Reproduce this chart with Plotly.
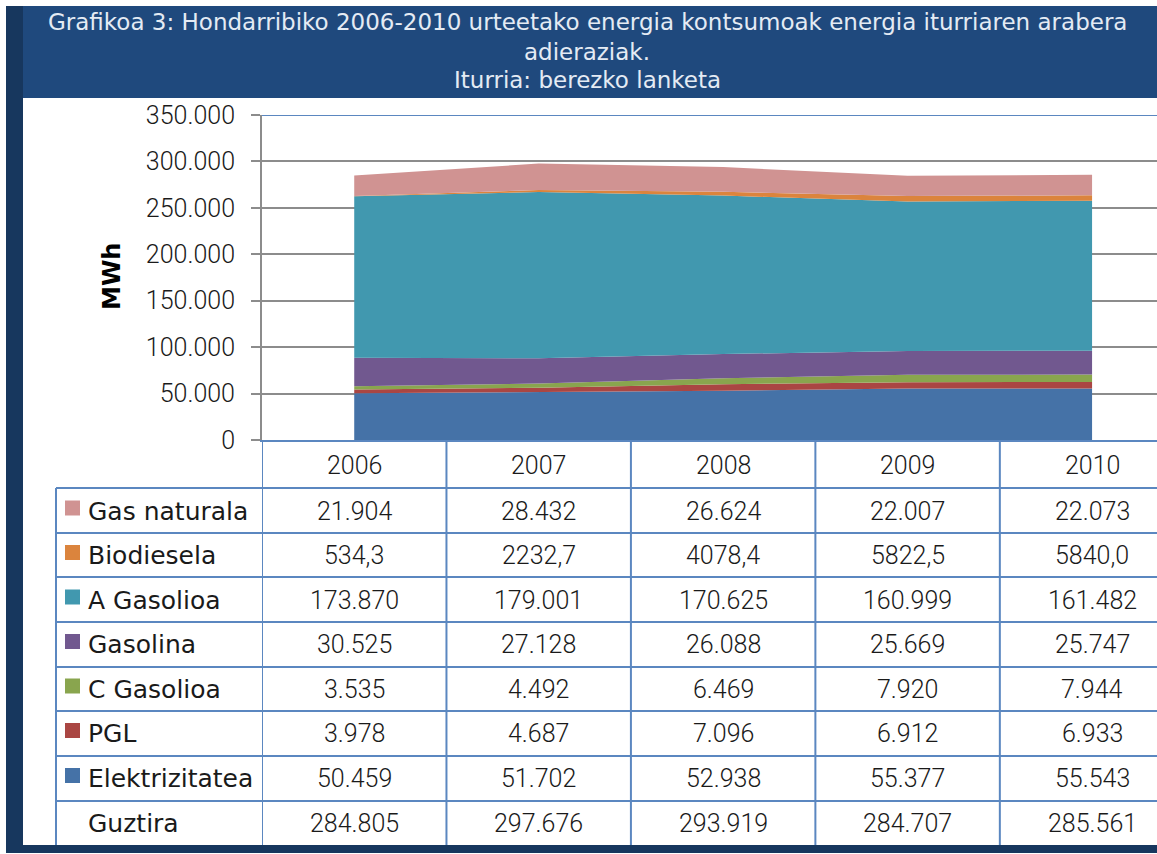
import plotly.graph_objects as go

W, H = 1157, 854

years = ["2006", "2007", "2008", "2009", "2010"]
series_names = ["Gas naturala", "Biodiesela", "A Gasolioa", "Gasolina", "C Gasolioa", "PGL", "Elektrizitatea"]
gas_naturala = [21904, 28432, 26624, 22007, 22073]
biodiesela = [534.3, 2232.7, 4078.4, 5822.5, 5840.0]
a_gasolioa = [173870, 179001, 170625, 160999, 161482]
gasolina = [30525, 27128, 26088, 25669, 25747]
c_gasolioa = [3535, 4492, 6469, 7920, 7944]
pgl = [3978, 4687, 7096, 6912, 6933]
elektrizitatea = [50459, 51702, 52938, 55377, 55543]
guztira = [284805, 297676, 293919, 284707, 285561]

colors = {
    "Gas naturala": "#d09392",
    "Biodiesela": "#db843d",
    "A Gasolioa": "#4198af",
    "Gasolina": "#71588f",
    "C Gasolioa": "#89a54e",
    "PGL": "#aa4643",
    "Elektrizitatea": "#4572a7",
}
values = {
    "Gas naturala": gas_naturala,
    "Biodiesela": biodiesela,
    "A Gasolioa": a_gasolioa,
    "Gasolina": gasolina,
    "C Gasolioa": c_gasolioa,
    "PGL": pgl,
    "Elektrizitatea": elektrizitatea,
}

title_lines = [
    "Grafikoa 3: Hondarribiko 2006-2010 urteetako energia kontsumoak energia iturriaren arabera",
    "adieraziak.",
    "Iturria: berezko lanketa",
]


def px(x):
    return x / W


def py(y):
    return 1 - y / H


def fmt(name, v):
    if name == "Biodiesela":
        return f"{v:.1f}".replace(".", ",")
    return f"{v:,.0f}".replace(",", ".")


NUM_FONT = "Roboto"
LBL_FONT = "DejaVu Sans"
TXT = "#1a1a1a"
TBL = "#5b87c0"

fig = go.Figure()

for name in reversed(series_names):
    fig.add_trace(go.Scatter(
        x=years, y=values[name], name=name, mode="lines",
        stackgroup="one", line=dict(width=0, color=colors[name]),
        fillcolor=colors[name], hoverinfo="skip", showlegend=False,
    ))

shapes = []
annotations = []

# frame
shapes.append(dict(type="rect", xref="paper", yref="paper", x0=px(23), x1=px(W), y0=py(98), y1=py(6),
                   fillcolor="#1f497d", line=dict(width=0), layer="above"))
shapes.append(dict(type="rect", xref="paper", yref="paper", x0=px(6), x1=px(23), y0=py(853), y1=py(6),
                   fillcolor="#17375e", line=dict(width=0), layer="above"))

# top border of plot area
shapes.append(dict(type="line", xref="paper", yref="y", x0=px(262), x1=1, y0=350000, y1=350000,
                   line=dict(color=TBL, width=2), layer="above"))

# table rows
row_lines = [488, 533, 577, 622, 667, 711, 756, 801]
for y in row_lines:
    shapes.append(dict(type="line", xref="paper", yref="paper", x0=px(56), x1=1, y0=py(y), y1=py(y),
                       line=dict(color=TBL, width=2), layer="above"))
# label column left border
shapes.append(dict(type="line", xref="paper", yref="paper", x0=px(56), x1=px(56), y0=py(488), y1=py(846),
                   line=dict(color=TBL, width=2), layer="above"))
# column separators
for i in range(len(years)):
    shapes.append(dict(type="line", xref="x", yref="paper", x0=i - 0.5, x1=i - 0.5, y0=py(440), y1=py(846),
                       line=dict(color=TBL, width=2), layer="above"))

# bottom band
shapes.append(dict(type="rect", xref="paper", yref="paper", x0=px(6), x1=px(W), y0=py(853), y1=py(845),
                   fillcolor="#17375e", line=dict(width=0), layer="above"))

# title
for t, y in zip(title_lines, [22, 52, 80]):
    annotations.append(dict(text=t, xref="paper", yref="paper", x=px(587), y=py(y), showarrow=False,
                            xanchor="center", yanchor="middle",
                            font=dict(family=LBL_FONT, size=23, color="#e4ebf4")))

# y axis title
annotations.append(dict(text="<b>MWh</b>", xref="paper", yref="paper", x=px(112), y=py(277), showarrow=False,
                        textangle=-90, xanchor="center", yanchor="middle",
                        font=dict(family=LBL_FONT, size=24, color="#000000")))

# header row (category index positions on the x axis)
for i, yr in enumerate(years):
    annotations.append(dict(text=yr, xref="x", yref="paper", x=i, y=py(465), showarrow=False,
                            xanchor="center", yanchor="middle",
                            font=dict(family=NUM_FONT, size=25, color=TXT, weight=300)))

row_centers = [511, 555.5, 600, 644.5, 689, 733.5, 778.5, 823]
for r, name in enumerate(series_names + ["Guztira"]):
    yc = row_centers[r]
    if name != "Guztira":
        shapes.append(dict(type="rect", xref="paper", yref="paper", x0=px(65), x1=px(80),
                           y0=py(yc + 4.5), y1=py(yc - 10.5), fillcolor=colors[name],
                           line=dict(width=0), layer="above"))
        vals = values[name]
    else:
        vals = guztira
    annotations.append(dict(text=name, xref="paper", yref="paper", x=px(86), y=py(yc), showarrow=False,
                            xanchor="left", yanchor="middle",
                            font=dict(family=LBL_FONT, size=25, color=TXT)))
    for i, v in enumerate(vals):
        annotations.append(dict(text=fmt(name, v), xref="x", yref="paper", x=i, y=py(yc), showarrow=False,
                                xanchor="center", yanchor="middle",
                                font=dict(family=NUM_FONT, size=25, color=TXT, weight=300)))

fig.update_layout(
    width=W, height=H,
    margin=dict(l=0, r=0, t=0, b=0, pad=0, autoexpand=False),
    paper_bgcolor="white", plot_bgcolor="white",
    separators=",.",
    showlegend=False,
    xaxis=dict(domain=[px(262), 1], type="category", range=[-0.5, 4.352], automargin=False,
               showgrid=False, showline=True, linecolor=TBL, linewidth=2,
               showticklabels=False, ticks="", zeroline=False, fixedrange=True),
    yaxis=dict(domain=[py(440), py(115)], range=[0, 350000], dtick=50000, tickformat=",d",
               automargin=False,
               showgrid=True, gridcolor="#8c8c8c", gridwidth=2,
               showline=True, linecolor="#8c8c8c", linewidth=2,
               ticks="outside", ticklen=9, tickwidth=2, tickcolor="#8c8c8c",
               ticklabelstandoff=11,
               tickfont=dict(family=NUM_FONT, size=25, color=TXT, weight=300), zeroline=False, fixedrange=True),
    shapes=shapes,
    annotations=annotations,
)

fig.write_html("out.html")
